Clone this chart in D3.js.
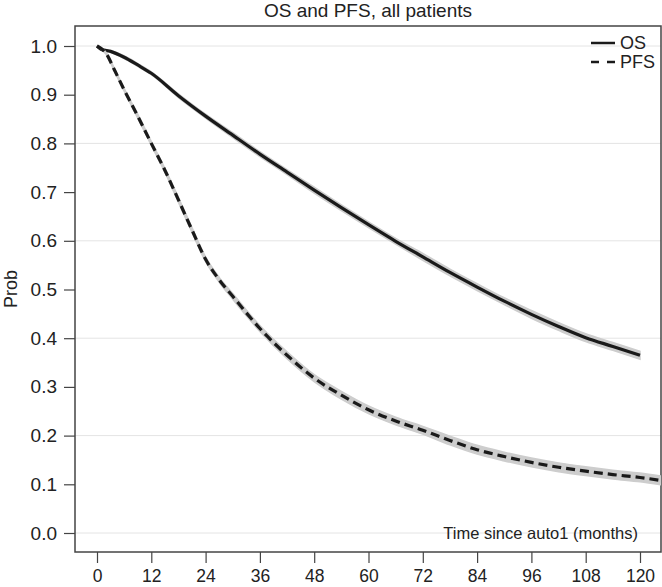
<!DOCTYPE html>
<html>
<head>
  <script src="https://cdnjs.cloudflare.com/ajax/libs/d3/7.8.5/d3.min.js"></script>
  <style>
    body { margin: 0; background: white; }
    svg text { font-family: "Liberation Sans", Arial, sans-serif; fill: #222; }
  </style>
</head>
<body>
  <div id="chart"></div>
  <script>
    // survival estimates (months, probability)
    const osMonths = [0, 1, 3, 6, 9, 12, 18, 24, 30, 36, 42, 48, 54, 60, 66, 72, 78, 84, 90, 96, 102, 108, 114, 120];
    const osProb = [1.0, 0.993, 0.989, 0.977, 0.961, 0.944, 0.898, 0.856, 0.817, 0.778, 0.741, 0.704, 0.668, 0.633, 0.599, 0.567, 0.535, 0.505, 0.476, 0.449, 0.424, 0.401, 0.383, 0.365];
    const osCi = [0, 0.001, 0.002, 0.003, 0.003, 0.003, 0.004, 0.004, 0.005, 0.005, 0.005, 0.006, 0.006, 0.006, 0.006, 0.007, 0.007, 0.007, 0.007, 0.008, 0.008, 0.008, 0.008, 0.008];

    const pfsMonths = [0, 2, 4, 6, 9, 12, 15, 18, 21, 24, 27, 30, 33, 36, 42, 48, 54, 60, 66, 72, 78, 84, 90, 96, 102, 108, 114, 120, 124.6];
    const pfsProb = [1.0, 0.985, 0.948, 0.91, 0.856, 0.8, 0.745, 0.684, 0.622, 0.562, 0.52, 0.486, 0.452, 0.42, 0.365, 0.318, 0.283, 0.253, 0.23, 0.211, 0.19, 0.171, 0.157, 0.145, 0.135, 0.127, 0.12, 0.114, 0.108];
    const pfsCi = [0, 0.002, 0.003, 0.003, 0.004, 0.004, 0.004, 0.005, 0.005, 0.005, 0.005, 0.006, 0.006, 0.006, 0.007, 0.007, 0.008, 0.008, 0.008, 0.008, 0.009, 0.009, 0.009, 0.009, 0.009, 0.009, 0.009, 0.009, 0.009];

    const xTicks = [0, 12, 24, 36, 48, 60, 72, 84, 96, 108, 120];
    const yTicks = [0, 0.1, 0.2, 0.3, 0.4, 0.5, 0.6, 0.7, 0.8, 0.9, 1.0];
    const gridVals = [0, 0.2, 0.4, 0.6, 0.8, 1.0];
    const seriesNames = ["OS", "PFS"];

    const width = 662, height = 587;
    const box = { left: 75, right: 661, top: 26, bottom: 552 };

    const svg = d3.select("#chart").append("svg")
      .attr("width", width)
      .attr("height", height);

    const x = d3.scaleLinear().domain([0, 120]).range([97, 640]);
    const y = d3.scaleLinear().domain([0, 1]).range([533, 46]);

    // gridlines
    svg.selectAll(".grid")
      .data(gridVals)
      .enter().append("line")
      .attr("x1", box.left).attr("x2", box.right)
      .attr("y1", d => y(d)).attr("y2", d => y(d))
      .attr("stroke", "#e4e4e4")
      .attr("stroke-width", 1);

    // axes
    const xAxis = svg.append("g")
      .attr("transform", `translate(0,${box.bottom})`)
      .call(d3.axisBottom(x).tickValues(xTicks).tickSize(11).tickPadding(7).tickFormat(d3.format("d")));
    const yAxis = svg.append("g")
      .attr("transform", `translate(${box.left},0)`)
      .call(d3.axisLeft(y).tickValues(yTicks).tickSize(11).tickPadding(7).tickFormat(d3.format(".1f")));
    [xAxis, yAxis].forEach(g => {
      g.select(".domain").remove();
      g.selectAll(".tick line").attr("stroke", "#444").attr("stroke-width", 1.2);
      g.selectAll(".tick text").attr("fill", "#222");
    });
    xAxis.selectAll(".tick text").style("font-size", "17.5px");
    yAxis.selectAll(".tick text").style("font-size", "19px");

    // frame
    svg.append("rect")
      .attr("x", box.left).attr("y", box.top)
      .attr("width", box.right - box.left).attr("height", box.bottom - box.top)
      .attr("fill", "none")
      .attr("stroke", "#444")
      .attr("stroke-width", 1.5);

    const series = [
      { months: osMonths, prob: osProb, ci: osCi, dash: null },
      { months: pfsMonths, prob: pfsProb, ci: pfsCi, dash: "9,5" }
    ];

    svg.append("clipPath").attr("id", "clip")
      .append("rect")
      .attr("x", box.left).attr("y", box.top)
      .attr("width", box.right - box.left).attr("height", box.bottom - box.top);

    const plot = svg.append("g").attr("clip-path", "url(#clip)");

    series.forEach(s => {
      const pts = s.months.map((m, i) => ({ m, p: s.prob[i], c: s.ci[i] }));
      const band = d3.area()
        .x(d => x(d.m))
        .y0(d => y(d.p - d.c))
        .y1(d => y(d.p + d.c))
        .curve(d3.curveMonotoneX);
      plot.append("path")
        .attr("d", band(pts))
        .attr("fill", "#cdcdcd")
        .attr("stroke", "#cdcdcd")
        .attr("stroke-width", 1.5);
      const line = d3.line()
        .x(d => x(d.m))
        .y(d => y(d.p))
        .curve(d3.curveMonotoneX);
      plot.append("path")
        .attr("d", line(pts))
        .attr("fill", "none")
        .attr("stroke", "#1a1a1a")
        .attr("stroke-width", 3.2)
        .attr("stroke-dasharray", s.dash);
    });

    // title
    svg.append("text")
      .attr("x", (box.left + box.right) / 2)
      .attr("y", 17)
      .attr("text-anchor", "middle")
      .style("font-size", "19px")
      .text("OS and PFS, all patients");

    // y label
    svg.append("text")
      .attr("transform", `translate(17,${(box.top + box.bottom) / 2}) rotate(-90)`)
      .attr("text-anchor", "middle")
      .style("font-size", "18px")
      .text("Prob");

    // x label inside the plot
    svg.append("text")
      .attr("x", 638)
      .attr("y", 539)
      .attr("text-anchor", "end")
      .style("font-size", "16.5px")
      .text("Time since auto1 (months)");

    // legend
    const legend = svg.append("g");
    seriesNames.forEach((name, i) => {
      const ly = 43 + i * 19;
      legend.append("line")
        .attr("x1", 591).attr("x2", 615)
        .attr("y1", ly).attr("y2", ly)
        .attr("stroke", "#1a1a1a")
        .attr("stroke-width", 2.5)
        .attr("stroke-dasharray", i === 1 ? "8,8" : null);
      legend.append("text")
        .attr("x", 620)
        .attr("y", ly + 6)
        .style("font-size", "18px")
        .text(name);
    });
  </script>
</body>
</html>
